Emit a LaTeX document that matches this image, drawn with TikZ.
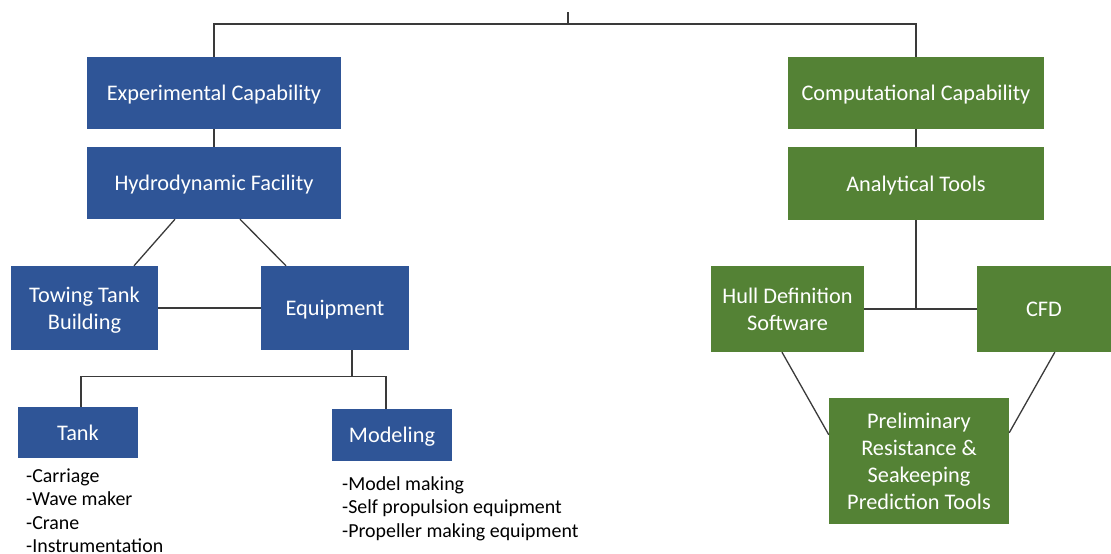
\documentclass[tikz,border=0pt]{standalone}
\usepackage{fontspec}
\setmainfont{Carlito}
\usetikzlibrary{calc}
\definecolor{boxblue}{HTML}{2F5597}
\definecolor{boxgreen}{HTML}{548235}
\definecolor{linegray}{HTML}{3A3A3A}
\tikzset{
  bbox/.style={fill=boxblue, text=white, inner sep=0pt, align=center, text depth=0pt,
    font=\fontsize{22.3}{27}\selectfont},
  gbox/.style={fill=boxgreen, text=white, inner sep=0pt, align=center, text depth=0pt,
    font=\fontsize{22.3}{27}\selectfont},
  conn/.style={draw=linegray, line width=1.3pt},
  listitem/.style={anchor=base west, inner sep=0pt, text=black,
    font=\fontsize{19.9}{23.5}\selectfont}
}
\begin{document}
\begin{tikzpicture}[x=1pt,y=-1pt]
\useasboundingbox (0,0) rectangle (1111,554);

% left (blue) branch
\node[bbox, minimum width=254pt, minimum height=72pt] (exp) at (214,93) {Experimental Capability};
\node[bbox, minimum width=254pt, minimum height=72pt] (hyd) at (214,183) {Hydrodynamic Facility};
\node[bbox, minimum width=147pt, minimum height=84pt] (tow) at (84.5,308) {Towing Tank\\Building};
\node[bbox, minimum width=148pt, minimum height=84pt] (equ) at (335,308) {Equipment};
\node[bbox, minimum width=120pt, minimum height=51pt] (tank) at (78,432.5) {Tank};
\node[bbox, minimum width=120pt, minimum height=52pt] (mod) at (392,435) {Modeling};

% right (green) branch
\node[gbox, minimum width=256pt, minimum height=72pt] (comp) at (916,93) {Computational Capability};
\node[gbox, minimum width=256pt, minimum height=73pt] (ana) at (916,183.5) {Analytical Tools};
\node[gbox, minimum width=153pt, minimum height=86pt] (hull) at (787.5,309) {Hull Definition\\Software};
\node[gbox, minimum width=134pt, minimum height=86pt] (cfd) at (1044,309) {CFD};
\node[gbox, minimum width=180pt, minimum height=126pt] (pre) at (919,461) {Preliminary\\Resistance \&\\Seakeeping\\Prediction Tools};

% lists
\node[listitem] (t1) at (26,482) {-Carriage};
\node[listitem] (t2) at (26,505.5) {-Wave maker};
\node[listitem] (t3) at (26,529) {-Crane};
\node[listitem] (t4) at (26,552.5) {-Instrumentation};
\node[listitem] (m1) at (342,490) {-Model making};
\node[listitem] (m2) at (342,513.5) {-Self propulsion equipment};
\node[listitem] (m3) at (342,537) {-Propeller making equipment};

% connectors
\coordinate (root) at (568,24);
\coordinate (rootTop) at (568,12);
\draw[conn] (root) -- (rootTop);
\draw[conn] (exp.north) |- (root) -| (comp.north);
\draw[conn] (exp) -- (hyd);
\draw[conn] (comp) -- (ana);
\draw[conn] ($(hyd.south)+(-39,0)$) -- ($(tow.north)+(49.5,0)$);
\draw[conn] ($(hyd.south)+(26,0)$) -- ($(equ.north)+(-49,0)$);
\draw[conn] (tow) -- (equ);
\coordinate (eqb) at ($(equ.south)+(17,26)$);
\draw[conn] ($(equ.south)+(17,0)$) -- (eqb);
\draw[conn] ($(tank.north)+(3,0)$) |- (eqb) -| ($(mod.north)+(-6,0)$);
\draw[conn] (hull) -- (cfd);
\draw[conn] (ana.south) -- (ana.south |- hull.east);
\draw[conn] ($(hull.south)+(-5.5,0)$) -- ($(pre.north west)+(0,37)$);
\draw[conn] ($(cfd.south west)+(78,0)$) -- ($(pre.north east)+(0,35)$);
\end{tikzpicture}
\end{document}
